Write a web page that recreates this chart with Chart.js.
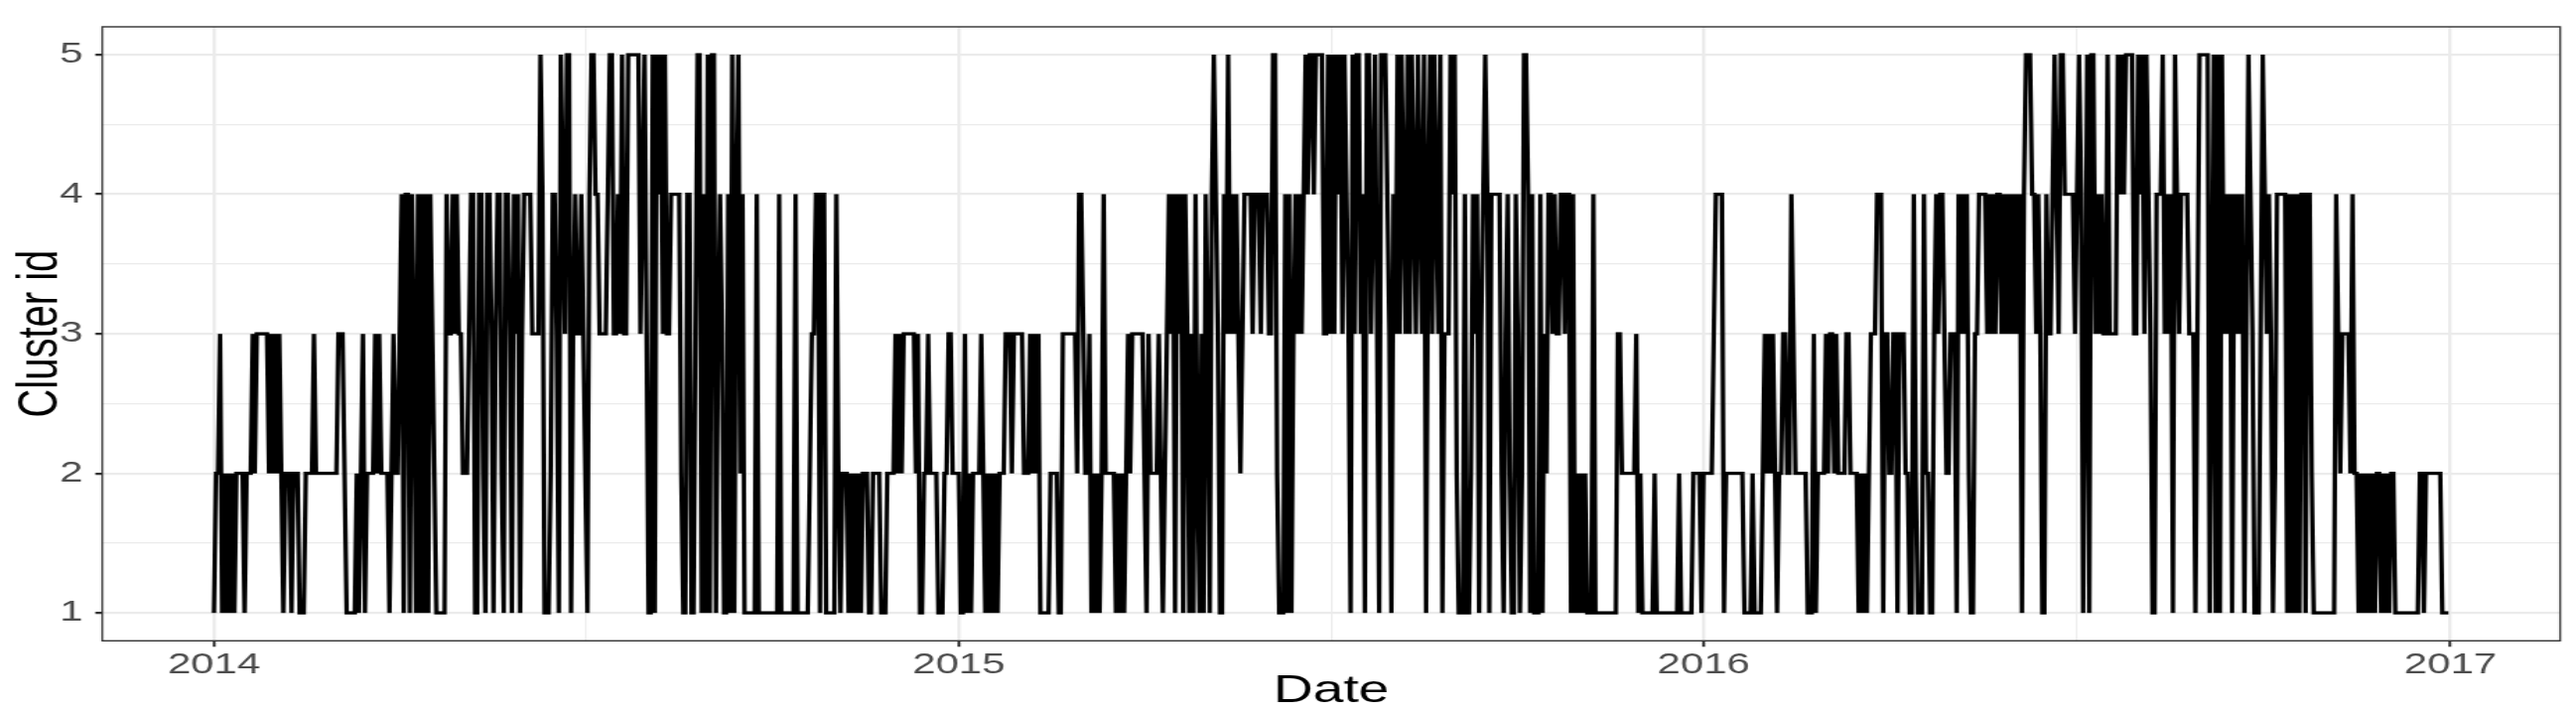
<!DOCTYPE html>
<html><head><meta charset="utf-8">
<script src="https://cdn.jsdelivr.net/npm/chart.js@4.4.1/dist/chart.umd.min.js"></script>
<style>
html,body{margin:0;padding:0;background:#fff;overflow:hidden;width:2595px;height:719px;}
#wrap{position:absolute;left:0;top:0;width:1854px;height:719px;transform:scaleX(1.39968);transform-origin:0 0;}
canvas{display:block;background:#fff;}
</style></head><body>
<div id="wrap"><canvas id="c" width="1854" height="719"></canvas></div>
<script>
// Daily cluster id, one digit per day, chunks of 10 days
const cluster2014 = ["1223121212","1222212223","2333333232","3232122212","2211122223","2222222222","2333211111","2123122223","2322221232","2341441431","4141414321","1111433434","3322234411","4421443134","4214431434","1344443333","5411124431","5435513433","4321455443","3334553343","5335555553","4531151545","3533444442","1144113551","4151551343","1141514524","1111114111","1111111411","1111141111","1123344144","1111142122","2121212122","2112222111","2222323233","3333231122","3222211122","33222"];
const cluster2015 = ["21131","2122223212","1212122233","3233333222","3232311111","2222113333","3332443223","1212124222","2212121232","3333332132","2223212343","4143414313","1421314314","5431143534","3432344443","4443444335","5211141413","4343454554","5555335353","5453543153","5534155345","3155543143","5354353543","5435145354","3513335452","1114112434","1345414444","4213421143","1255414111","4132443433","4434414121","2121114111","1111111133","2222222312","1111112111","1111111121","1111122221"];
const cluster2016 = ["2222234444","1222222222","1111211112","3232321223","3224322222","2111312222","3233232222","3322221212","1233344413","3223313332","2114211142","2113434432","2333143434","2113344443","4343443434","3434341455","5443431143","3454355444","4434541351","5534343353","3335454555","5335453543","1144453434","1543444433","3135555513","5151534341","4343413543","1113543431","2444441414","1414414421","1111111111","4323333242","2121212121","2212121221","1111111111","1221222222","221111"];
const yearLabels = ["2014","2015","2016","2017"];
const yTickLabels = ["1","2","3","4","5"];
const xTitle = "Date";
const yTitle = "Cluster id";

const values = [cluster2014, cluster2015, cluster2016].map(a => a.join('')).join('').split('').map(Number);
const points = values.map((v, i) => ({x: i, y: v}));
const DAY = 86400000;
const t0 = Date.UTC(2014, 0, 1);
const majorX = yearLabels.map(y => (Date.UTC(+y, 0, 1) - t0) / DAY);
const minorX = majorX.slice(0, -1).map((v, i) => (v + majorX[i + 1]) / 2);
const lastDay = values.length - 1;
const padX = lastDay * 0.05;
const yMajor = yTickLabels.map(Number);
const yMinor = yMajor.slice(0, -1).map(v => v + 0.5);
const padY = (yMajor[yMajor.length - 1] - yMajor[0]) * 0.05;

const isMajX = v => majorX.some(m => Math.abs(m - v) < 1e-6);
const isMajY = v => yMajor.some(m => Math.abs(m - v) < 1e-6);

const panelBorder = {
  id: 'panelBorder',
  afterDatasetsDraw(chart) {
    const {ctx, chartArea: a} = chart;
    ctx.save();
    ctx.strokeStyle = '#333333';
    ctx.lineWidth = 1.4;
    ctx.strokeRect(a.left, a.top, a.right - a.left, a.bottom - a.top);
    ctx.restore();
  }
};

new Chart(document.getElementById('c'), {
  type: 'line',
  data: {datasets: [{data: points, borderColor: '#000000', borderWidth: 3.2, pointRadius: 0, tension: 0, fill: false}]},
  options: {
    responsive: false, animation: false, devicePixelRatio: 1,
    layout: {padding: {top: 16.8, right: 11.4, left: 0, bottom: 0}},
    plugins: {legend: {display: false}, tooltip: {enabled: false}},
    scales: {
      x: {
        type: 'linear', min: -padX, max: lastDay + padX,
        afterBuildTicks: s => { s.ticks = [...majorX, ...minorX].sort((a, b) => a - b).map(v => ({value: v})); },
        afterFit: s => { s.height = 73.7; },
        ticks: {autoSkip: false, maxRotation: 0, minRotation: 0, padding: 0, color: '#4D4D4D',
          font: {family: 'Liberation Sans', size: 30},
          callback: v => { const i = majorX.findIndex(m => Math.abs(m - v) < 1e-6); return i >= 0 ? yearLabels[i] : ''; }},
        grid: {
          color: '#EBEBEB',
          lineWidth: c => (c.tick && isMajX(c.tick.value)) ? 2.4 : 1.1,
          tickLength: 6,
          tickColor: c => (c.tick && isMajX(c.tick.value)) ? '#333333' : 'rgba(0,0,0,0)',
          tickWidth: 2.1
        },
        border: {display: false},
        title: {display: true, text: xTitle, color: '#000000', font: {family: 'Liberation Sans', size: 39.5, lineHeight: 1.2}, padding: {top: 0, bottom: -1}}
      },
      y: {
        type: 'linear', min: yMajor[0] - padY, max: yMajor[yMajor.length - 1] + padY,
        afterBuildTicks: s => { s.ticks = [...yMajor, ...yMinor].sort((a, b) => a - b).map(v => ({value: v})); },
        afterFit: s => { s.width = 73.6; },
        ticks: {autoSkip: false, padding: 9, color: '#4D4D4D',
          font: {family: 'Liberation Sans', size: 30},
          callback: v => isMajY(v) ? String(Math.round(v)) : ''},
        grid: {
          color: '#EBEBEB',
          lineWidth: c => (c.tick && isMajY(c.tick.value)) ? 2.3 : 1.2,
          tickLength: 5,
          tickColor: c => (c.tick && isMajY(c.tick.value)) ? '#333333' : 'rgba(0,0,0,0)',
          tickWidth: 2.3
        },
        border: {display: false},
        title: {display: true, text: yTitle, color: '#000000', font: {family: 'Liberation Sans', size: 40, lineHeight: 1.2}, padding: {top: 5.5, bottom: 0}}
      }
    }
  },
  plugins: [panelBorder]
});
</script>
</body></html>
